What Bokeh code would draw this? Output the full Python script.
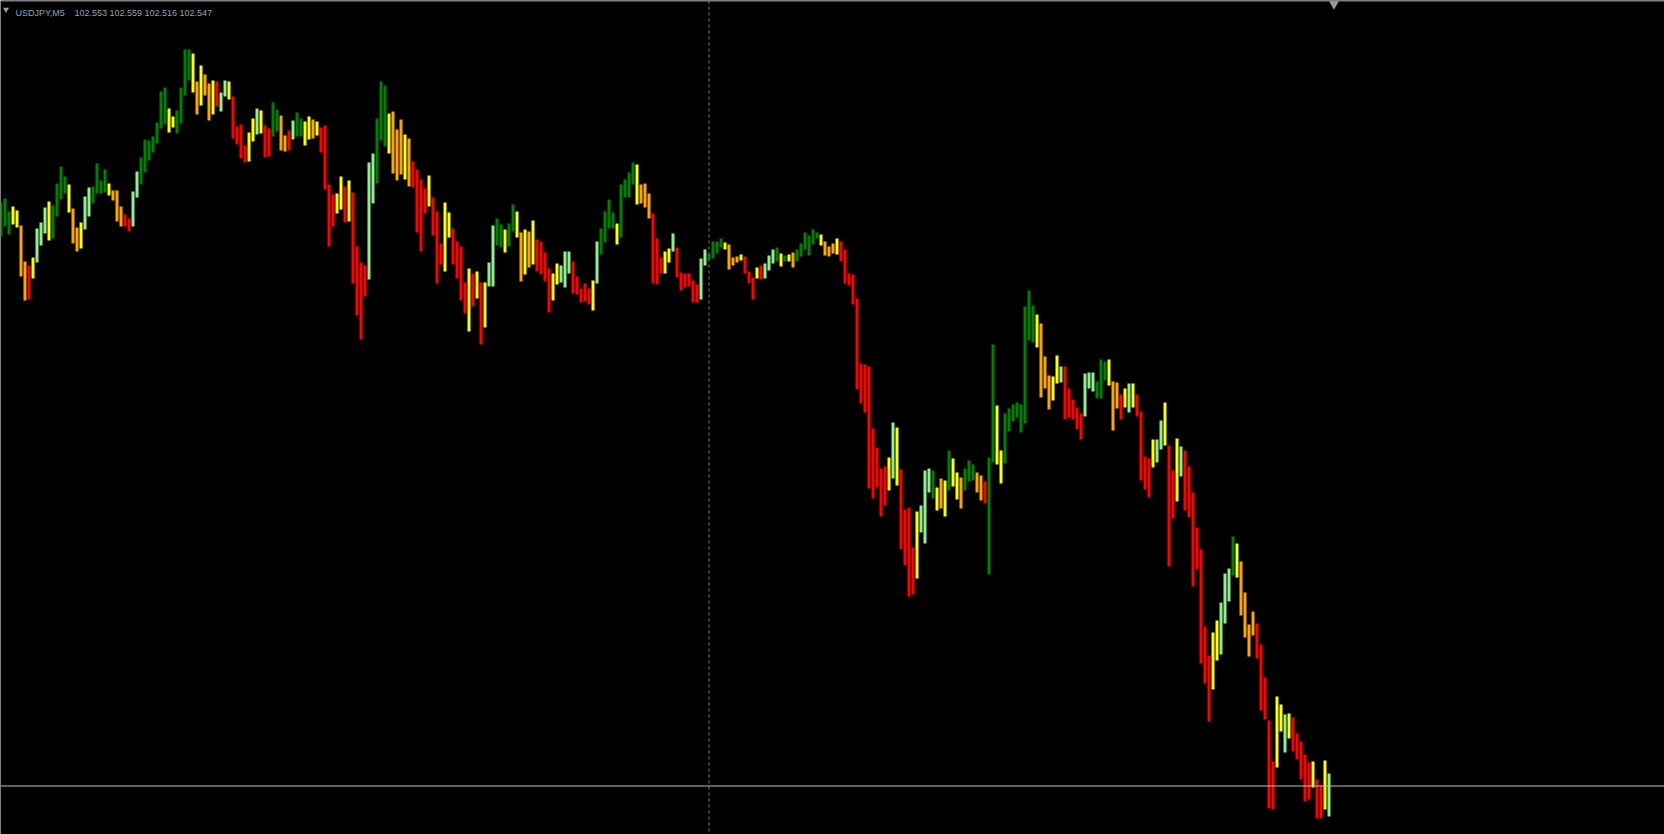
from bokeh.plotting import figure
from bokeh.models import Span, Label, Range1d, ColumnDataSource
from bokeh.embed import file_html
from bokeh.resources import INLINE

symbol = "USDJPY,M5"
ohlc_text = "102.553 102.559 102.516 102.547"
last_close = 102.547
separator_bar = 177

highs = [
    103.130, 103.134, 103.121, 103.126, 103.122, 103.107, 103.071, 103.067, 103.075, 103.104,
    103.110, 103.125, 103.131, 103.127, 103.149, 103.166, 103.156, 103.148, 103.124, 103.105,
    103.110, 103.136, 103.145, 103.146, 103.169, 103.152, 103.163, 103.149, 103.142, 103.142,
    103.126, 103.118, 103.114, 103.141, 103.161, 103.175, 103.193, 103.192, 103.196, 103.210,
    103.241, 103.245, 103.224, 103.216, 103.222, 103.245, 103.283, 103.283, 103.279, 103.251,
    103.267, 103.258, 103.249, 103.252, 103.251, 103.240, 103.252, 103.251, 103.236, 103.206,
    103.208, 103.187, 103.200, 103.214, 103.224, 103.222, 103.207, 103.204, 103.230, 103.223,
    103.217, 103.197, 103.202, 103.212, 103.220, 103.214, 103.211, 103.216, 103.213, 103.211,
    103.205, 103.207, 103.148, 103.138, 103.139, 103.156, 103.146, 103.152, 103.140, 103.086,
    103.070, 103.067, 103.170, 103.179, 103.214, 103.251, 103.247, 103.219, 103.221, 103.203,
    103.213, 103.198, 103.194, 103.171, 103.163, 103.153, 103.144, 103.157, 103.135, 103.121,
    103.089, 103.130, 103.120, 103.104, 103.091, 103.086, 103.050, 103.064, 103.059, 103.061,
    103.050, 103.050, 103.070, 103.107, 103.114, 103.108, 103.103, 103.109, 103.128, 103.121,
    103.100, 103.103, 103.101, 103.112, 103.093, 103.091, 103.080, 103.064, 103.059, 103.069,
    103.067, 103.081, 103.081, 103.071, 103.056, 103.044, 103.049, 103.044, 103.052, 103.091,
    103.104, 103.121, 103.133, 103.120, 103.109, 103.148, 103.153, 103.160, 103.170, 103.168,
    103.148, 103.149, 103.139, 103.119, 103.094, 103.075, 103.081, 103.084, 103.099, 103.085,
    103.060, 103.059, 103.059, 103.052, 103.048, 103.074, 103.083, 103.078, 103.091, 103.091,
    103.094, 103.090, 103.088, 103.075, 103.076, 103.078, 103.076, 103.061, 103.055, 103.065,
    103.067, 103.069, 103.077, 103.083, 103.085, 103.079, 103.077, 103.078, 103.080, 103.083,
    103.089, 103.100, 103.097, 103.103, 103.100, 103.098, 103.091, 103.086, 103.089, 103.094,
    103.091, 103.083, 103.059, 103.058, 103.034, 102.969, 102.968, 102.966, 102.904, 102.885,
    102.864, 102.866, 102.875, 102.910, 102.905, 102.863, 102.823, 102.825, 102.785, 102.821,
    102.827, 102.862, 102.864, 102.862, 102.845, 102.854, 102.852, 102.882, 102.874, 102.860,
    102.855, 102.864, 102.872, 102.868, 102.860, 102.857, 102.851, 102.875, 102.988, 102.927,
    102.882, 102.919, 102.924, 102.928, 102.930, 102.928, 103.026, 103.042, 103.027, 103.018,
    103.009, 102.976, 102.957, 102.956, 102.977, 102.966, 102.966, 102.944, 102.933, 102.925,
    102.919, 102.959, 102.960, 102.960, 102.951, 102.973, 102.971, 102.973, 102.951, 102.950,
    102.938, 102.944, 102.949, 102.949, 102.938, 102.921, 102.876, 102.874, 102.893, 102.893,
    102.912, 102.930, 102.887, 102.862, 102.894, 102.886, 102.882, 102.866, 102.840, 102.805,
    102.783, 102.706, 102.677, 102.700, 102.712, 102.730, 102.759, 102.764, 102.796, 102.789,
    102.771, 102.740, 102.708, 102.721, 102.709, 102.688, 102.655, 102.612, 102.571, 102.636,
    102.628, 102.618, 102.619, 102.615, 102.599, 102.591, 102.578, 102.570, 102.571, 102.553,
    102.547, 102.572, 102.559,
]

lows = [
    103.096, 103.106, 103.098, 103.108, 103.105, 103.056, 103.032, 103.033, 103.054, 103.070,
    103.087, 103.099, 103.092, 103.094, 103.116, 103.133, 103.139, 103.120, 103.089, 103.081,
    103.084, 103.103, 103.116, 103.129, 103.139, 103.139, 103.140, 103.137, 103.132, 103.111,
    103.106, 103.106, 103.101, 103.106, 103.135, 103.148, 103.160, 103.172, 103.180, 103.189,
    103.204, 103.208, 103.200, 103.205, 103.199, 103.209, 103.237, 103.252, 103.240, 103.218,
    103.227, 103.237, 103.212, 103.218, 103.226, 103.221, 103.236, 103.233, 103.194, 103.188,
    103.174, 103.170, 103.171, 103.191, 103.198, 103.199, 103.175, 103.176, 103.196, 103.201,
    103.182, 103.181, 103.182, 103.193, 103.196, 103.196, 103.187, 103.193, 103.194, 103.197,
    103.180, 103.143, 103.086, 103.106, 103.119, 103.123, 103.110, 103.111, 103.049, 103.017,
    102.993, 103.036, 103.053, 103.129, 103.149, 103.192, 103.186, 103.179, 103.159, 103.152,
    103.158, 103.153, 103.146, 103.145, 103.100, 103.081, 103.119, 103.126, 103.097, 103.049,
    103.068, 103.061, 103.095, 103.068, 103.054, 103.032, 103.019, 103.001, 103.026, 103.034,
    102.988, 103.005, 103.046, 103.046, 103.087, 103.085, 103.080, 103.086, 103.101, 103.095,
    103.051, 103.058, 103.065, 103.068, 103.061, 103.058, 103.051, 103.020, 103.032, 103.048,
    103.050, 103.045, 103.059, 103.039, 103.038, 103.030, 103.031, 103.028, 103.022, 103.049,
    103.078, 103.090, 103.104, 103.104, 103.088, 103.095, 103.135, 103.135, 103.148, 103.128,
    103.129, 103.125, 103.114, 103.049, 103.048, 103.059, 103.059, 103.070, 103.081, 103.055,
    103.042, 103.045, 103.046, 103.030, 103.030, 103.033, 103.067, 103.073, 103.074, 103.079,
    103.085, 103.083, 103.063, 103.067, 103.070, 103.072, 103.059, 103.049, 103.033, 103.054,
    103.053, 103.054, 103.062, 103.069, 103.071, 103.066, 103.071, 103.071, 103.065, 103.071,
    103.076, 103.083, 103.077, 103.088, 103.094, 103.087, 103.077, 103.076, 103.079, 103.078,
    103.071, 103.049, 103.047, 103.028, 102.943, 102.929, 102.920, 102.844, 102.834, 102.845,
    102.816, 102.827, 102.842, 102.854, 102.847, 102.783, 102.767, 102.736, 102.738, 102.754,
    102.800, 102.789, 102.840, 102.834, 102.822, 102.824, 102.816, 102.842, 102.846, 102.833,
    102.824, 102.842, 102.851, 102.852, 102.840, 102.832, 102.829, 102.758, 102.870, 102.868,
    102.849, 102.869, 102.901, 102.911, 102.915, 102.900, 102.909, 102.992, 102.990, 102.985,
    102.935, 102.944, 102.923, 102.932, 102.949, 102.950, 102.913, 102.915, 102.913, 102.903,
    102.893, 102.916, 102.944, 102.941, 102.934, 102.934, 102.952, 102.947, 102.902, 102.924,
    102.913, 102.925, 102.920, 102.925, 102.916, 102.852, 102.843, 102.835, 102.865, 102.870,
    102.883, 102.887, 102.766, 102.814, 102.831, 102.856, 102.822, 102.815, 102.746, 102.763,
    102.669, 102.649, 102.611, 102.643, 102.672, 102.678, 102.709, 102.731, 102.757, 102.755,
    102.717, 102.695, 102.676, 102.697, 102.674, 102.622, 102.613, 102.524, 102.523, 102.565,
    102.601, 102.580, 102.594, 102.581, 102.573, 102.553, 102.531, 102.533, 102.545, 102.514,
    102.514, 102.523, 102.516,
]

# trend state per bar: G strong up, L weak up, Y neutral, O weak down, R strong down
trend = list(
    "GGGYYOORYL" "LLYGGGGYOO" "YLLGGGGYOO" "ORRLLGGGGG" "GGYYGGGGYO"
    "YOOYRLLYRR" "RRYYLYRRGG" "OORLGGYYOY" "RRRRYYRYRR" "RRLLGGGYOO"
    "OYORRRRYRR" "RYYRRRRYRY" "RYLLGGYGGY" "OYOYRRRRYY" "LLLRRRRRYL"
    "GGGGYGGGGY" "OOORRRYYLR" "RRRRRLLGGG" "GYOOOYRRRY" "RLLLGYGYOG"
    "GGGGGYOOOY" "RRRRRRRRRR" "RRYLYRRRRY" "LLLGYOYGYY" "OGGGOORGGY"
    "YGGGGGGGGY" "OOOYYLRRRR" "RLLLGGGYOO" "RYLYRRRRYL" "LYRRYLRRRR"
    "RRRYYLLLGY" "OOOORRRRRY" "YLYRRRRRYR" "RYL"
)

palette = {"G": "#008000", "L": "#90EE90", "Y": "#FFFF00", "O": "#FFA500", "R": "#FF0000"}

n = len(highs)
src = ColumnDataSource(dict(
    x=list(range(n)),
    top=highs,
    bottom=lows,
    color=[palette[c] for c in trend],
))

W, H = 1664, 834
bar_px = 4.0
x0 = -0.125
y_top = 103.332
y_bot = y_top - H / 1000.0

p = figure(width=W, height=H, output_backend="svg", toolbar_location=None,
           x_range=Range1d(x0, x0 + W / bar_px), y_range=Range1d(y_bot, y_top),
           x_axis_location=None, y_axis_location=None, min_border=0,
           background_fill_color="black", border_fill_color="black",
           outline_line_color=None)
p.grid.visible = False

p.vbar(x="x", top="top", bottom="bottom", width=0.75, fill_color="color",
       line_color=None, source=src)

# top border line
p.add_layout(Span(location=y_top - 0.0005, dimension="width",
                  line_color="#808080", line_width=1))
# period separator / dashed vertical
p.add_layout(Span(location=separator_bar, dimension="height",
                  line_color="#808080", line_width=1, line_dash="3 3"))
# bid line
p.add_layout(Span(location=last_close - 0.0005, dimension="width",
                  line_color="#c0c0c0", line_width=1))

# chart shift marker
p.scatter([333.25], [y_top - 0.0035], marker="inverted_triangle", size=10,
          fill_color="#9a9a9a", line_color=None)
# small menu triangle
p.scatter([1.25], [y_top - 0.009], marker="inverted_triangle", size=6,
          fill_color="#98a2ac", line_color=None)

p.add_layout(Label(x=15 / bar_px + x0, y=y_top - 0.012, text=symbol,
                   text_font="Liberation Sans", text_font_size="9px",
                   text_color="#98a2ac", text_baseline="alphabetic"))
p.add_layout(Label(x=74 / bar_px + x0, y=y_top - 0.012, text=ohlc_text,
                   text_font="Liberation Sans", text_font_size="9px",
                   text_color="#98a2ac", text_baseline="alphabetic"))

open("out.html", "w").write(file_html(p, INLINE))
